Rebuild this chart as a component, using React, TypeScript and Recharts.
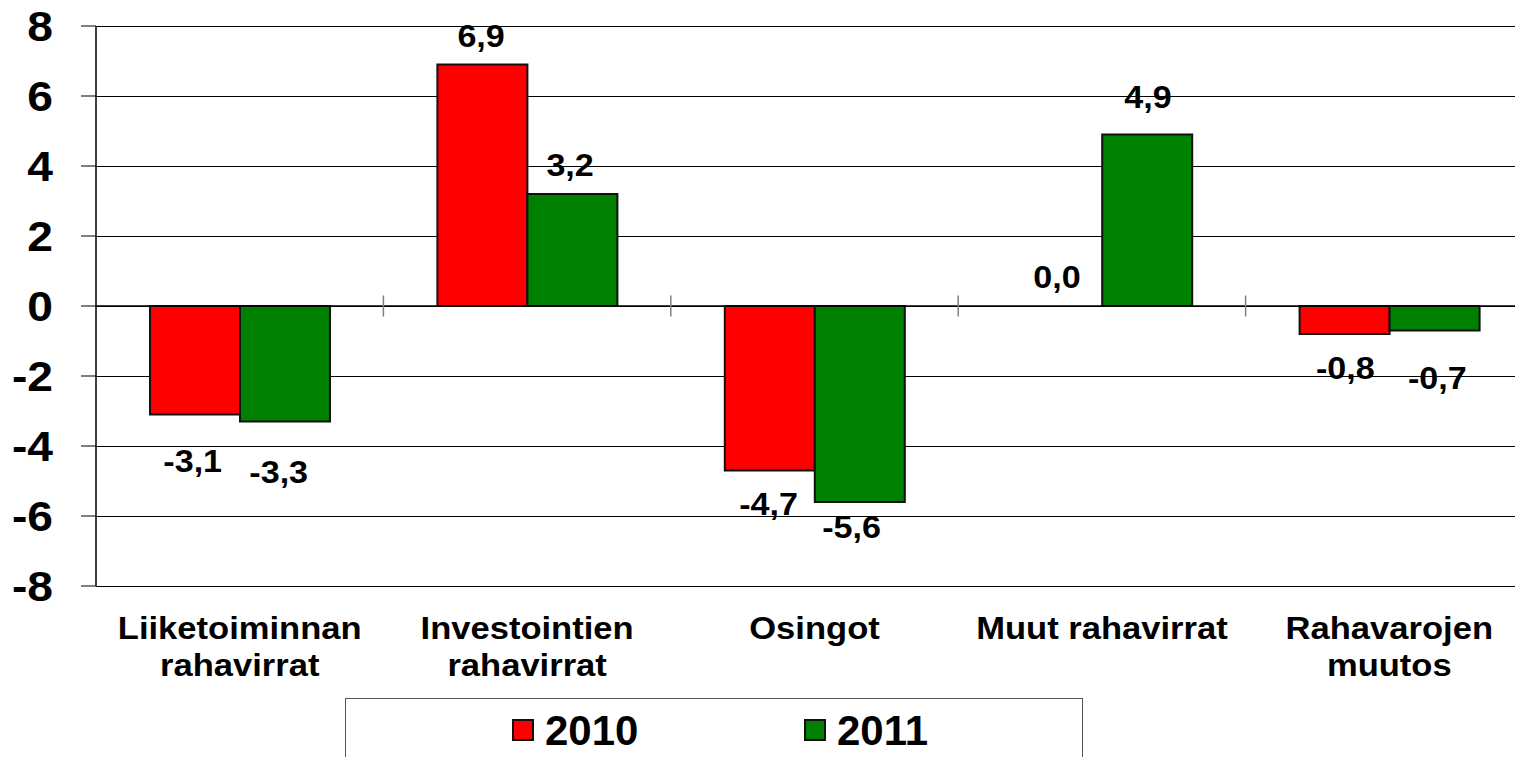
import React from "react";
import {
  ComposedChart,
  Bar,
  Line,
  XAxis,
  YAxis,
  CartesianGrid,
  ReferenceLine,
  LabelList,
  Legend,
} from "recharts";

// ---- data ----
const categories = [
  "Liiketoiminnan\nrahavirrat",
  "Investointien\nrahavirrat",
  "Osingot",
  "Muut rahavirrat",
  "Rahavarojen\nmuutos",
];
const series2010 = [-3.1, 6.9, -4.7, 0.0, -0.8];
const series2011 = [-3.3, 3.2, -5.6, 4.9, -0.7];
const seriesNames = ["2010", "2011"];
const yTicks = [-8, -6, -4, -2, 0, 2, 4, 6, 8];
const categoryBoundaries = [1, 2, 3, 4];

// ---- label nudges (style: distance of label centre from bar end, px) ----
const labelGap2010 = [46, 28.5, 33.5, 29.5, 33.5];
const labelGap2011 = [50, 29.5, 24.5, 37.5, 47];
const labelDx2010 = [-2, -1, -1, 0, 1];
const labelDx2011 = [-6, -2, -8, 1, 3];

const COLORS = ["#FF0000", "#008000"];
const FONT = "'Liberation Sans', Arial, Helvetica, sans-serif";
const SX = 1.1;
const BAR_SIZE = 90;

const data = categories.map((c, i) => ({
  name: c,
  v2010: series2010[i],
  v2011: series2011[i],
}));

function SText({
  x,
  cy,
  size,
  anchor = "middle",
  sx = SX,
  children,
}: {
  x: number;
  cy: number;
  size: number;
  anchor?: "middle" | "end" | "start";
  sx?: number;
  children: React.ReactNode;
}) {
  const baseline = cy + 0.358 * size;
  return (
    <text
      transform={`translate(${x},${baseline}) scale(${sx},1)`}
      x={0}
      y={0}
      textAnchor={anchor}
      fontSize={size}
      fontWeight="bold"
      fontFamily={FONT}
      fill="#000"
    >
      {children}
    </text>
  );
}

const fmt = (v: number) => v.toFixed(1).replace(".", ",");

// labels are hung on an invisible line through the bar ends so that
// zero values get a label too; shift sideways by half a bar to sit on the bar
function makeLabel(gaps: number[], dxs: number[], side: number) {
  return (props: any) => {
    const { x, y, value, index } = props;
    if (value == null) return null;
    const cx = x + side * (BAR_SIZE / 2) + (dxs[index] || 0);
    const cy = value >= 0 ? y - gaps[index] : y + gaps[index];
    return (
      <SText key={index} x={cx} cy={cy} size={31}>
        {fmt(value)}
      </SText>
    );
  };
}

function YTick(props: any) {
  const { x, y, payload } = props;
  return (
    <SText x={x} cy={y} size={42} anchor="end">
      {String(payload.value)}
    </SText>
  );
}

function XTick(props: any) {
  const { x, y, payload } = props;
  const lines = String(payload.value).split("\n");
  return (
    <g>
      {lines.map((l, i) => (
        <SText key={i} x={x} cy={y + 42 + i * 37} size={32} sx={1.08}>
          {l}
        </SText>
      ))}
    </g>
  );
}

function LegendBox() {
  return (
    <div
      style={{
        width: 738,
        height: 70,
        boxSizing: "border-box",
        border: "1.5px solid #555",
        display: "flex",
        justifyContent: "flex-start",
        alignItems: "flex-start",
        paddingLeft: 166,
        gap: 159,
        background: "#fff",
      }}
    >
      {seriesNames.map((n, i) => (
        <div
          key={n}
          style={{ display: "flex", alignItems: "center", marginTop: 7 }}
        >
          <div
            style={{
              width: 22,
              height: 22,
              boxSizing: "border-box",
              background: COLORS[i],
              border: "2px solid #111",
              marginRight: 11,
            }}
          />
          <svg width={100} height={48} style={{ display: "block" }}>
            <SText x={0} cy={24} size={42} anchor="start" sx={1.0}>
              {n}
            </SText>
          </svg>
        </div>
      ))}
    </div>
  );
}

export default function App() {
  return (
    <div
      style={{
        position: "absolute",
        left: 0,
        top: 0,
        width: 1515,
        height: 757,
        overflow: "hidden",
        background: "#fff",
      }}
    >
      <ComposedChart
        width={1540}
        height={757}
        data={data}
        margin={{ top: 26, right: 7, bottom: 0, left: 0 }}
        barGap={0}
        barSize={BAR_SIZE}
      >
        <CartesianGrid
          vertical={false}
          stroke="#000"
          strokeWidth={1}
          horizontalValues={yTicks}
          shapeRendering="crispEdges"
        />
        <XAxis
          dataKey="name"
          height={171}
          axisLine={false}
          tickLine={false}
          tickSize={0}
          tickMargin={0}
          interval={0}
          tick={<XTick />}
        />
        <XAxis
          xAxisId="num"
          dataKey="edge"
          type="number"
          scale="linear"
          domain={[0, 5]}
          allowDataOverflow
          hide
        />
        <YAxis
          width={96}
          domain={[-8, 8]}
          ticks={yTicks}
          interval={0}
          tickSize={15}
          tickMargin={28}
          axisLine={{ stroke: "#000", strokeWidth: 1.5 }}
          tickLine={{ stroke: "#000", strokeWidth: 1 }}
          tick={<YTick />}
        />
        <Legend
          layout="horizontal"
          verticalAlign="middle"
          align="center"
          content={<LegendBox />}
          wrapperStyle={{
            position: "absolute",
            left: 345,
            top: 698,
            width: 738,
            height: 70,
          }}
        />
        <ReferenceLine y={0} stroke="#000" strokeWidth={1.5} />
        {categoryBoundaries.map((b) => (
          <ReferenceLine
            key={b}
            xAxisId="num"
            segment={[
              { x: b, y: -0.3 },
              { x: b, y: 0.3 },
            ]}
            stroke="#808080"
            strokeWidth={1.5}
            ifOverflow="visible"
          />
        ))}
        <Bar
          dataKey="v2010"
          name={seriesNames[0]}
          fill={COLORS[0]}
          stroke="#111"
          strokeWidth={2}
          isAnimationActive={false}
        />
        <Bar
          dataKey="v2011"
          name={seriesNames[1]}
          fill={COLORS[1]}
          stroke="#111"
          strokeWidth={2}
          isAnimationActive={false}
        />
        <Line
          dataKey="v2010"
          stroke="transparent"
          dot={false}
          activeDot={false}
          legendType="none"
          isAnimationActive={false}
        >
          <LabelList
            dataKey="v2010"
            content={makeLabel(labelGap2010, labelDx2010, -1)}
          />
        </Line>
        <Line
          dataKey="v2011"
          stroke="transparent"
          dot={false}
          activeDot={false}
          legendType="none"
          isAnimationActive={false}
        >
          <LabelList
            dataKey="v2011"
            content={makeLabel(labelGap2011, labelDx2011, 1)}
          />
        </Line>
      </ComposedChart>
    </div>
  );
}
